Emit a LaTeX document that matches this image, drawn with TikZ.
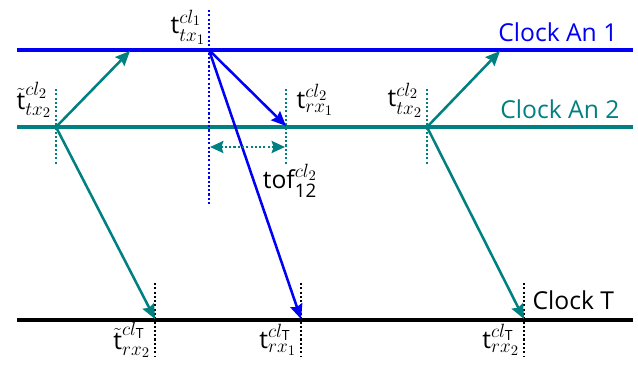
\documentclass[tikz,border=0pt]{standalone}
\usepackage{amsmath}
\usepackage{fontspec}
\setmainfont{Open Sans}
\usetikzlibrary{positioning,arrows.meta}
\DeclareMathSizes{18.5}{18.5}{14}{10.5}
\definecolor{anone}{RGB}{0,0,245}
\definecolor{antwo}{RGB}{0,128,128}

\begin{document}
\begin{tikzpicture}[
    x=0.75pt,
    y=-0.75pt,
    clock/.style={
        line width=2.8pt
    },
    msg/.style={
        -{Stealth[length=11pt,width=9.5pt,inset=1.5pt]},
        line width=1.9pt
    },
    tick/.style={
        line width=1.9pt,
        dash pattern=on 1.6pt off 1.6pt
    },
    lbl/.style={
        font=\fontsize{18.5}{21}\selectfont,
        inner sep=1pt
    }
]

\useasboundingbox (0,0) rectangle (638,365);

% clock lines
\coordinate (a1l) at (17,50);
\coordinate (a1r) at (633,50);
\coordinate (a2l) at (17,127);
\coordinate (a2r) at (633,127);
\coordinate (tl) at (17,320);
\coordinate (tr) at (633,320);

\draw[clock, anone] (a1l) -- (a1r);
\draw[clock, antwo] (a2l) -- (a2r);
\draw[clock, black] (tl) -- (tr);

% events
\coordinate (txa) at (56,127);
\coordinate (rxa) at (130,51);
\coordinate (rxat) at (155,319);
\coordinate (txb) at (209,50);
\coordinate (rxb) at (286,126);
\coordinate (rxbt) at (301,319);
\coordinate (txc) at (427,127);
\coordinate (rxc) at (500,51);
\coordinate (rxct) at (524,319);

% ticks
\draw[tick, antwo] (56,89) -- (56,165);
\draw[tick, anone] (209,10) -- (209,205);
\draw[tick, antwo] (286,89) -- (286,165);
\draw[tick, antwo] (427,89) -- (427,165);
\draw[tick, black] (155,283) -- (155,356);
\draw[tick, black] (301,283) -- (301,356);
\draw[tick, black] (524,283) -- (524,356);

% messages
\draw[msg, antwo] (txa) -- (rxa);
\draw[msg, antwo] (txa) -- (rxat);
\draw[msg, anone] (txb) -- (rxb);
\draw[msg, anone] (txb) -- (rxbt);
\draw[msg, antwo] (txc) -- (rxc);
\draw[msg, antwo] (txc) -- (rxct);

% time of flight
\coordinate (tofl) at (210,147);
\coordinate (tofr) at (285,147);
\draw[antwo, line width=1.9pt, dash pattern=on 1.6pt off 1.6pt,
    {Stealth[length=10pt,width=9pt,inset=1.5pt]}-{Stealth[length=10pt,width=9pt,inset=1.5pt]}]
    (tofl) -- (tofr);

% labels
\node[lbl, anone, anchor=east] (lbla1) at (619,32) {Clock An 1};
\node[lbl, antwo, anchor=east] (lbla2) at (621,109) {Clock An 2};
\node[lbl, anchor=west] (lblt) at (531,300) {Clock T};

\node[lbl, anchor=east] (ltxa) at (53,100) {$\tilde{\text{t}}_{tx_2}^{cl_2}$};
\node[lbl, anchor=east] (ltxb) at (207,27) {$\text{t}_{tx_1}^{cl_1}$};
\node[lbl, anchor=west] (lrxb) at (295,100) {$\text{t}_{rx_1}^{cl_2}$};
\node[lbl, anchor=east] (ltxc) at (424,100) {$\text{t}_{tx_2}^{cl_2}$};
\node[lbl] (ltof) at (290,181) {tof$_{\text{12}}^{cl_2}$};
\node[lbl, anchor=east] (lrxa) at (152,340) {$\tilde{\text{t}}_{rx_2}^{cl_{\text{T}}}$};
\node[lbl, anchor=east] (lrxbt) at (298,340) {$\text{t}_{rx_1}^{cl_{\text{T}}}$};
\node[lbl, anchor=east] (lrxct) at (521,340) {$\text{t}_{rx_2}^{cl_{\text{T}}}$};

\end{tikzpicture}
\end{document}
